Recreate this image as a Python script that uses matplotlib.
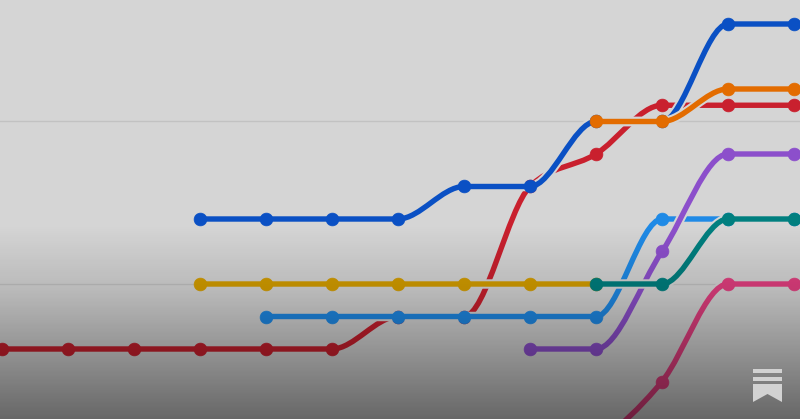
import numpy as np
import matplotlib
matplotlib.use("Agg")
import matplotlib.pyplot as plt
from matplotlib.path import Path
from matplotlib.patches import PathPatch, Polygon, Rectangle

# steps along x, ranks along y (half steps where lines sit between levels)
red_steps = [0, 1, 2, 3, 4, 5, 6, 7, 8, 9, 10, 11, 12]
red_vals = [0, 0, 0, 0, 0, 0, 1, 1, 5, 6, 7.5, 7.5, 7.5]
sky_steps = [4, 5, 6, 7, 8, 9, 10, 11, 12]
sky_vals = [1, 1, 1, 1, 1, 1, 4, 4, 4]
yellow_steps = [3, 4, 5, 6, 7, 8, 9]
yellow_vals = [2, 2, 2, 2, 2, 2, 2]
blue_steps = [3, 4, 5, 6, 7, 8, 9, 10, 11, 12]
blue_vals = [4, 4, 4, 4, 5, 5, 7, 7, 10, 10]
purple_steps = [8, 9, 10, 11, 12]
purple_vals = [0, 0, 3, 6, 6]
pink_steps = [9, 10, 11, 12]
pink_vals = [-3, -1, 2, 2]
teal_steps = [9, 10, 11, 12]
teal_vals = [2, 2, 4, 4]
orange_steps = [9, 10, 11, 12]
orange_vals = [7, 7, 8, 8]
grid_levels = [2, 7]

BG = "#d5d5d5"


def monotone_path(xs, ys):
    # same idea as d3 curveMonotoneX, one bezier per gap
    xs = np.array(xs, dtype=float)
    ys = np.array(ys, dtype=float)
    slopes = np.diff(ys) / np.diff(xs)
    tan = np.zeros(len(xs))
    for i in range(1, len(xs) - 1):
        a, b = slopes[i - 1], slopes[i]
        if a * b > 0:
            tan[i] = 2 * np.sign(a) * min(abs(a), abs(b), 0.25 * abs(a + b))
    tan[0] = (3 * slopes[0] - tan[1]) / 2
    tan[-1] = (3 * slopes[-1] - tan[-2]) / 2
    verts = [(xs[0], ys[0])]
    codes = [Path.MOVETO]
    for i in range(len(xs) - 1):
        d = (xs[i + 1] - xs[i]) / 3
        verts += [(xs[i] + d, ys[i] + tan[i] * d), (xs[i + 1] - d, ys[i + 1] - tan[i + 1] * d), (xs[i + 1], ys[i + 1])]
        codes += [Path.CURVE4] * 3
    return Path(verts, codes)


def draw_line(ax, xs, ys, color, z):
    path = monotone_path(xs, ys)
    ax.add_patch(PathPatch(path, fc="none", ec=BG, lw=6.8, capstyle="butt", zorder=z))
    ax.add_patch(PathPatch(path, fc="none", ec=color, lw=3.9, capstyle="round", zorder=z + 0.1))
    ax.plot(xs, ys, ls="none", marker="o", ms=9.2, mfc=color, mec=color, mew=0.5, zorder=z + 0.2)


fig = plt.figure(figsize=(8, 4.19), dpi=100, facecolor=BG)
ax = fig.add_axes([0, 0, 1, 1])
ax.set_facecolor(BG)
ax.axis("off")

for lev in grid_levels:
    ax.axhline(lev, color="#c2c2c2", lw=1, zorder=1)

draw_line(ax, red_steps, red_vals, "#c9202e", 2)
draw_line(ax, sky_steps, sky_vals, "#1f8ae6", 3)
draw_line(ax, yellow_steps, yellow_vals, "#d59e00", 4)
draw_line(ax, blue_steps, blue_vals, "#0a50c4", 5)
draw_line(ax, purple_steps, purple_vals, "#8c4fcb", 6)
draw_line(ax, pink_steps, pink_vals, "#e23f80", 7)
draw_line(ax, teal_steps, teal_vals, "#007f7f", 8)
draw_line(ax, orange_steps, orange_vals, "#e36c00", 9)

ax.set_xlim(-2 / 66, 798 / 66)
ax.set_ylim(-70 / 32.5, 349 / 32.5)

# dark fade over the lower part of the image, over the lines too
fade = np.zeros((419, 1, 4))
fade[:, 0, 3] = np.interp(np.arange(419), [0, 225, 290, 350, 419], [0, 0, 0.13, 0.31, 0.52])
ax.imshow(fade, extent=ax.get_xlim() + ax.get_ylim(), origin="upper", aspect="auto", zorder=20)

# bookmark logo, in pixels of the figure
W, H = 800.0, 419.0
logo = "#d2d2d2"
for top, bot in [(368.5, 373), (376.5, 381)]:
    fig.add_artist(Rectangle((753 / W, 1 - bot / H), 29 / W, (bot - top) / H, transform=fig.transFigure, fc=logo, ec="none", zorder=30))
fig.add_artist(Polygon([(753 / W, 1 - 384 / H), (782 / W, 1 - 384 / H), (782 / W, 1 - 402 / H), (767.5 / W, 1 - 394 / H), (753 / W, 1 - 402 / H)],
                       closed=True, transform=fig.transFigure, fc=logo, ec="none", zorder=30))

fig.savefig("out.png", dpi=100, facecolor=BG)
